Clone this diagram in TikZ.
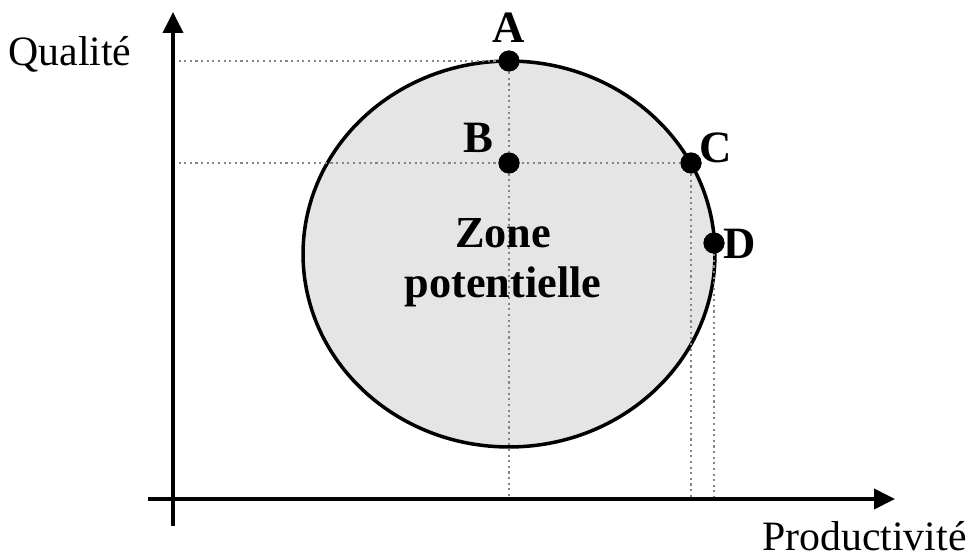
\documentclass[tikz,border=0pt]{standalone}
\usepackage{fontspec}
\setmainfont{Liberation Serif}
\usetikzlibrary{
  arrows.meta,
  positioning,
  calc
}
\definecolor{zoneFill}{HTML}{E5E5E5}
\definecolor{guideGray}{HTML}{858585}
\tikzset{
  axisline/.style={line width=2.2pt, -{Triangle[length=0.42cm, width=0.4cm]}},
  zonearea/.style={draw, line width=2pt, fill=zoneFill},
  guide/.style={guideGray, line width=1.2pt, dash pattern=on 1.2pt off 2pt},
  pt/.style={circle, fill=black, inner sep=0pt, minimum size=0.42cm},
  ptlabel/.style={font=\fontsize{25.5}{30}\selectfont\bfseries, inner sep=0pt, anchor=base},
  axislabel/.style={font=\fontsize{23.8}{28}\selectfont, inner sep=0pt, anchor=base},
  zonelabel/.style={font=\fontsize{25.2}{28.35}\selectfont\bfseries, align=center, inner sep=0pt}
}
\begin{document}
\begin{tikzpicture}[x=0.02cm, y=-0.02cm]
  \useasboundingbox (0,0) rectangle (968,558);
  % zone
  \draw[zonearea] (509,254) ellipse [x radius=4.12cm, y radius=3.86cm];
  % axes
  \coordinate (origin) at (173,499);
  \coordinate (ybot) at (173,526);
  \coordinate (ytop) at (173,12);
  \coordinate (xleft) at (148,499);
  \coordinate (xright) at (895,499);
  % points
  \node[pt] (A) at (509,61) {};
  \node[pt] (B) at (509,163) {};
  \node[pt] (C) at (691,163) {};
  \node[pt] (D) at (714,243) {};
  % guides
  \draw[guide] (origin |- A) -- (A.center);
  \draw[guide] (origin |- C) -- (C.center);
  \draw[guide] (A.center) -- (A |- origin);
  \draw[guide] (C.center) -- (C |- origin);
  \draw[guide] (D.center) -- (D |- origin);
  \draw[axisline] (ybot) -- (ytop);
  \draw[axisline] (xleft) -- (xright);
  % redraw points over guides
  \foreach \p in {A,B,C,D} \fill (\p) circle [radius=0.21cm];
  % labels
  \node[ptlabel] (labA) at (509,42) {A};
  \node[ptlabel] (labB) at (478,152) {B};
  \node[ptlabel] (labC) at (716,162) {C};
  \node[ptlabel] (labD) at (740,258) {D};
  \node[zonelabel] (zone) at (503,263) {Zone\\potentielle};
  \node[axislabel] (qual) at (70,65) {Qualité};
  \node[axislabel, anchor=base east] (prod) at (967,550) {Productivité};
\end{tikzpicture}
\end{document}
